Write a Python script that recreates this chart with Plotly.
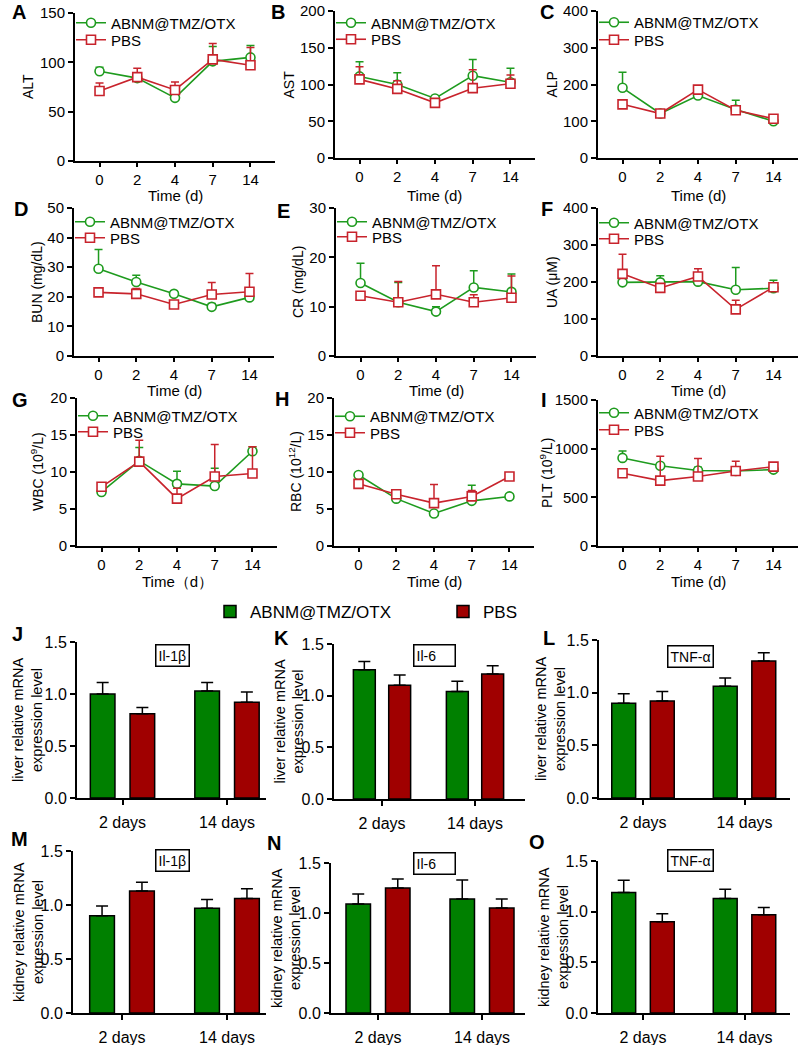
import plotly.graph_objects as go

W, H = 800, 1045
FONT = "Liberation Sans, Arial, sans-serif"
GREEN_L = "#1e9b1e"
RED_L = "#c8232c"
GREEN_B = "#008000"
RED_B = "#a00000"

# ---------------- data ----------------
time_labels = ["0", "2", "4", "7", "14"]
group_names = ["ABNM@TMZ/OTX", "PBS"]

alt_abnm = [91, 84, 64, 101, 105]
alt_abnm_err = [4, 2, 1, 15, 12]
alt_pbs = [71, 85, 72, 103, 97]
alt_pbs_err = [8, 9, 8, 16, 18]

ast_abnm = [111, 100, 81, 112, 103]
ast_abnm_err = [20, 16, 3, 22, 19]
ast_pbs = [107, 94, 75, 95, 101]
ast_pbs_err = [17, 11, 2, 25, 12]

alp_abnm = [191, 121, 170, 132, 100]
alp_abnm_err = [42, 3, 14, 25, 6]
alp_pbs = [146, 121, 186, 130, 107]
alp_pbs_err = [4, 3, 6, 5, 5]

bun_abnm = [29.5, 25, 21, 16.6, 19.8]
bun_abnm_err = [6.5, 2.3, 0.3, 1.1, 2.8]
bun_pbs = [21.5, 21, 17.4, 20.8, 21.7]
bun_pbs_err = [0.5, 1.8, 0.4, 4.0, 6.2]

cr_abnm = [14.8, 10.9, 9.0, 13.9, 13.0]
cr_abnm_err = [4.0, 4.0, 1.0, 3.4, 3.6]
cr_pbs = [12.2, 10.9, 12.5, 10.9, 11.8]
cr_pbs_err = [0.6, 4.2, 5.8, 1.5, 4.4]

ua_abnm = [199, 199, 201, 179, 183]
ua_abnm_err = [1, 18, 14, 60, 22]
ua_pbs = [222, 184, 215, 126, 186]
ua_pbs_err = [53, 9, 21, 25, 11]

wbc_abnm = [7.3, 11.5, 8.4, 8.1, 12.8]
wbc_abnm_err = [0.3, 1.8, 1.7, 2.4, 0.6]
wbc_pbs = [8.0, 11.4, 6.4, 9.4, 9.8]
wbc_pbs_err = [0.3, 2.9, 1.4, 4.3, 3.6]

rbc_abnm = [9.6, 6.4, 4.4, 6.1, 6.7]
rbc_abnm_err = [0.3, 0.2, 0.2, 2.1, 0.35]
rbc_pbs = [8.4, 7.0, 5.8, 6.7, 9.4]
rbc_pbs_err = [0.2, 0.2, 2.5, 0.8, 0.3]

plt_abnm = [905, 825, 775, 770, 785]
plt_abnm_err = [70, 10, 35, 40, 40]
plt_pbs = [748, 672, 714, 770, 815]
plt_pbs_err = [10, 250, 185, 100, 22]

day_labels = ["2 days", "14 days"]

liver_il1b_abnm = [1.00, 1.03]
liver_il1b_abnm_err = [0.11, 0.08]
liver_il1b_pbs = [0.81, 0.92]
liver_il1b_pbs_err = [0.06, 0.10]

liver_il6_abnm = [1.25, 1.04]
liver_il6_abnm_err = [0.08, 0.10]
liver_il6_pbs = [1.10, 1.21]
liver_il6_pbs_err = [0.10, 0.08]

liver_tnf_abnm = [0.90, 1.06]
liver_tnf_abnm_err = [0.09, 0.08]
liver_tnf_pbs = [0.92, 1.30]
liver_tnf_pbs_err = [0.09, 0.08]

kidney_il1b_abnm = [0.90, 0.97]
kidney_il1b_abnm_err = [0.09, 0.08]
kidney_il1b_pbs = [1.13, 1.06]
kidney_il1b_pbs_err = [0.08, 0.09]

kidney_il6_abnm = [1.09, 1.14]
kidney_il6_abnm_err = [0.10, 0.19]
kidney_il6_pbs = [1.25, 1.05]
kidney_il6_pbs_err = [0.09, 0.09]

kidney_tnf_abnm = [1.19, 1.13]
kidney_tnf_abnm_err = [0.12, 0.09]
kidney_tnf_pbs = [0.90, 0.97]
kidney_tnf_pbs_err = [0.08, 0.07]

# ---------------- layout specs (pixels) ----------------
def fx(p):
    return p / W

def fy(p):
    return 1 - p / H

line_panels = [
    dict(letter="A", ytitle="ALT", xtitle="Time (d)", ymax=150, dtick=50,
         a=alt_abnm, ae=alt_abnm_err, p=alt_pbs, pe=alt_pbs_err,
         left=75, top=13, bot=161, ytx=28, lx=18.5, ly=11.5, leg=(23, 40), xty=196),
    dict(letter="B", ytitle="AST", xtitle="Time (d)", ymax=200, dtick=50,
         a=ast_abnm, ae=ast_abnm_err, p=ast_pbs, pe=ast_pbs_err,
         left=335, top=11, bot=158, ytx=289, lx=278, ly=12, leg=(23, 39.5), xty=196),
    dict(letter="C", ytitle="ALP", xtitle="Time (d)", ymax=400, dtick=100,
         a=alp_abnm, ae=alp_abnm_err, p=alp_pbs, pe=alp_pbs_err,
         left=598, top=11, bot=158, ytx=552, lx=547, ly=12, leg=(22.5, 40), xty=196),
    dict(letter="D", ytitle="BUN (mg/dL)", xtitle="Time (d)", ymax=50, dtick=10,
         a=bun_abnm, ae=bun_abnm_err, p=bun_pbs, pe=bun_pbs_err,
         left=74, top=208, bot=356, ytx=37, lx=21, ly=209, leg=(222, 238), xty=391),
    dict(letter="E", ytitle="CR (mg/dL)", xtitle="Time (d)", ymax=30, dtick=10,
         a=cr_abnm, ae=cr_abnm_err, p=cr_pbs, pe=cr_pbs_err,
         left=336, top=208, bot=356, ytx=298, lx=283, ly=211, leg=(222, 237), xty=391),
    dict(letter="F", ytitle="UA (μM)", xtitle="Time (d)", ymax=400, dtick=100,
         a=ua_abnm, ae=ua_abnm_err, p=ua_pbs, pe=ua_pbs_err,
         left=598, top=208, bot=356, ytx=552, lx=547, ly=209, leg=(223, 239), xty=391),
    dict(letter="G", ytitle="WBC (10<sup>9</sup>/L)", xtitle="Time（d）", ymax=20, dtick=5,
         a=wbc_abnm, ae=wbc_abnm_err, p=wbc_pbs, pe=wbc_pbs_err,
         left=77, top=398, bot=546, ytx=37, lx=19.5, ly=399.5, leg=(416, 432), xty=581),
    dict(letter="H", ytitle="RBC (10<sup>12</sup>/L)", xtitle="Time (d)", ymax=20, dtick=5,
         a=rbc_abnm, ae=rbc_abnm_err, p=rbc_pbs, pe=rbc_pbs_err,
         left=334, top=398, bot=546, ytx=295, lx=282, ly=398.5, leg=(416.5, 433), xty=581),
    dict(letter="I", ytitle="PLT (10<sup>9</sup>/L)", xtitle="Time (d)", ymax=1500, dtick=500,
         a=plt_abnm, ae=plt_abnm_err, p=plt_pbs, pe=plt_pbs_err,
         left=598, top=400, bot=546, ytx=546, lx=543.5, ly=399.5, leg=(413, 430), xty=581),
]

bar_panels = [
    dict(letter="J", ytitle=("liver relative mRNA", "expression level"), box="Il-1β",
         a=liver_il1b_abnm, ae=liver_il1b_abnm_err, p=liver_il1b_pbs, pe=liver_il1b_pbs_err,
         left=77, right=266, c0=122.5, c1=227, top=642, bot=798, ytx=(18, 37), lx=17.5, ly=633.5,
         bx=172, by=655.5, bw=None),
    dict(letter="K", ytitle=("liver relative mRNA", "expression level"), box="Il-6",
         a=liver_il6_abnm, ae=liver_il6_abnm_err, p=liver_il6_pbs, pe=liver_il6_pbs_err,
         left=334, right=525, c0=382, c1=475, top=644, bot=799, ytx=(279, 297), lx=281.5, ly=637.5,
         bx=435, by=655, bw=36),
    dict(letter="L", ytitle=("liver relative mRNA", "expression level"), box="TNF-α",
         a=liver_tnf_abnm, ae=liver_tnf_abnm_err, p=liver_tnf_pbs, pe=liver_tnf_pbs_err,
         left=599, right=790, c0=643, c1=744.5, top=640, bot=798, ytx=(541, 560), lx=549, ly=637.5,
         bx=690, by=656.5, bw=None),
    dict(letter="M", ytitle=("kidney relative mRNA", "expression level"), box="Il-1β",
         a=kidney_il1b_abnm, ae=kidney_il1b_abnm_err, p=kidney_il1b_pbs, pe=kidney_il1b_pbs_err,
         left=73, right=266, c0=122, c1=227, top=851, bot=1013, ytx=(19, 38), lx=19, ly=838.5,
         bx=172, by=860, bw=None),
    dict(letter="N", ytitle=("kidney relative mRNA", "expression level"), box="Il-6",
         a=kidney_il6_abnm, ae=kidney_il6_abnm_err, p=kidney_il6_pbs, pe=kidney_il6_pbs_err,
         left=331, right=525, c0=378, c1=482, top=863, bot=1013, ytx=(277, 295), lx=274, ly=842.5,
         bx=435, by=863, bw=36),
    dict(letter="O", ytitle=("kidney relative mRNA", "expression level"), box="TNF-α",
         a=kidney_tnf_abnm, ae=kidney_tnf_abnm_err, p=kidney_tnf_pbs, pe=kidney_tnf_pbs_err,
         left=598, right=790, c0=643, c1=744.5, top=861, bot=1013, ytx=(544, 563), lx=537, ly=841.5,
         bx=690, by=860, bw=None),
]

fig = go.Figure()
layout = dict(
    width=W, height=H, margin=dict(l=0, r=0, t=0, b=0, pad=0, autoexpand=False),
    paper_bgcolor="white", plot_bgcolor="white",
    font=dict(family=FONT, color="black", size=15),
    barmode="group", bargap=0.24, bargroupgap=0.38,
)
annotations = []

axis_common = dict(showline=True, linecolor="black", linewidth=2, ticks="outside",
                   ticklen=5, tickwidth=1.5, tickcolor="black", showgrid=False,
                   zeroline=False, fixedrange=True, automargin=False)

def add_letter(letter, x, y):
    annotations.append(dict(text=f"<b>{letter}</b>", x=fx(x), y=fy(y), xref="paper", yref="paper",
                            showarrow=False, xanchor="center", yanchor="middle",
                            font=dict(size=20, family=FONT)))

leg_count = 0

def next_legend():
    global leg_count
    leg_count += 1
    return "legend" if leg_count == 1 else f"legend{leg_count}"

PW = 200  # px width of line-panel axes
for i, sp in enumerate(line_panels):
    n = i + 1
    xa = "x" if n == 1 else f"x{n}"
    ya = "y" if n == 1 else f"y{n}"
    xk = "xaxis" if n == 1 else f"xaxis{n}"
    yk = "yaxis" if n == 1 else f"yaxis{n}"
    layout[xk] = dict(axis_common, domain=[fx(sp["left"]), fx(sp["left"] + PW)], type="category",
                      range=[-0.65, 4.65], anchor=ya, tickfont=dict(size=15), ticklen=4)
    layout[yk] = dict(axis_common, domain=[fy(sp["bot"]), fy(sp["top"])], range=[0, sp["ymax"]],
                      dtick=sp["dtick"], tick0=0, anchor=xa, tickfont=dict(size=15))
    series = [
        (group_names[0], sp["a"], sp["ae"], GREEN_L, "circle"),
        (group_names[1], sp["p"], sp["pe"], RED_L, "square"),
    ]
    for k, (name, vals, errs, col, sym) in enumerate(series):
        lg = next_legend()
        fig.add_trace(go.Scatter(
            x=time_labels, y=vals, name=name, mode="lines+markers",
            line=dict(color=col, width=1.6),
            marker=dict(symbol=sym, size=9, color="white", line=dict(color=col, width=1.6)),
            error_y=dict(type="data", array=errs, arrayminus=[0] * len(errs), symmetric=False,
                         color=col, thickness=1.5, width=4),
            xaxis=xa, yaxis=ya, legend=lg, showlegend=True,
        ))
        layout[lg] = dict(x=fx(sp["left"] - 4), y=fy(sp["leg"][k]), xanchor="left", yanchor="middle",
                          bgcolor="rgba(0,0,0,0)", font=dict(size=15, family=FONT),
                          itemclick=False, itemdoubleclick=False)
    cx = sp["left"] + PW / 2
    annotations.append(dict(text=sp["xtitle"], x=fx(cx), y=fy(sp["xty"]), xref="paper", yref="paper",
                            showarrow=False, xanchor="center", yanchor="middle", font=dict(size=15)))
    annotations.append(dict(text=sp["ytitle"], x=fx(sp["ytx"]), y=fy((sp["top"] + sp["bot"]) / 2),
                            xref="paper", yref="paper", showarrow=False, textangle=-90,
                            xanchor="center", yanchor="middle", font=dict(size=14)))
    add_letter(sp["letter"], sp["lx"], sp["ly"])

for j, sp in enumerate(bar_panels):
    n = len(line_panels) + j + 1
    xa, ya = f"x{n}", f"y{n}"
    xk, yk = f"xaxis{n}", f"yaxis{n}"
    s = sp["c1"] - sp["c0"]
    r0 = (sp["left"] - sp["c0"]) / s
    r1 = (sp["right"] - sp["c0"]) / s
    layout[xk] = dict(axis_common, domain=[fx(sp["left"]), fx(sp["right"])], type="category",
                      range=[r0, r1], anchor=ya, tickfont=dict(size=16), ticklabelstandoff=4)
    layout[yk] = dict(axis_common, domain=[fy(sp["bot"]), fy(sp["top"])], range=[0, 1.5],
                      dtick=0.5, tick0=0, tickformat=".1f", anchor=xa, tickfont=dict(size=16))
    series = [
        (group_names[0], sp["a"], sp["ae"], GREEN_B),
        (group_names[1], sp["p"], sp["pe"], RED_B),
    ]
    for k, (name, vals, errs, col) in enumerate(series):
        tr = dict(
            x=day_labels, y=vals, name=name,
            marker=dict(color=col, line=dict(color="black", width=1.5)),
            error_y=dict(type="data", array=errs, arrayminus=[0] * len(errs), symmetric=False,
                         color="black", thickness=1.5, width=6),
            xaxis=xa, yaxis=ya, showlegend=(j == 0),
        )
        if j == 0:
            lg = next_legend()
            tr["legend"] = lg
            layout[lg] = dict(x=fx([210, 443][k]), y=fy(612), xanchor="left", yanchor="middle",
                              bgcolor="rgba(0,0,0,0)", font=dict(size=17, family=FONT),
                              itemclick=False, itemdoubleclick=False)
        fig.add_trace(go.Bar(**tr))
    ymid = (sp["top"] + sp["bot"]) / 2
    for line_text, lx_px in zip(sp["ytitle"], sp["ytx"]):
        annotations.append(dict(text=line_text, x=fx(lx_px), y=fy(ymid),
                                xref="paper", yref="paper", showarrow=False, textangle=-90,
                                xanchor="center", yanchor="middle", font=dict(size=14.5)))
    box = dict(text=sp["box"], x=fx(sp["bx"]), y=fy(sp["by"]), xref="paper", yref="paper",
               showarrow=False, xanchor="center", yanchor="middle", font=dict(size=14),
               bordercolor="black", borderwidth=1.5, borderpad=2, bgcolor="white")
    if sp["bw"]:
        box["width"] = sp["bw"]
        box["align"] = "left"
    annotations.append(box)
    add_letter(sp["letter"], sp["lx"], sp["ly"])

layout["annotations"] = annotations
fig.update_layout(**layout)
fig.write_html("out.html", config={"displayModeBar": False},
               post_script="document.body.style.margin='0px';")
